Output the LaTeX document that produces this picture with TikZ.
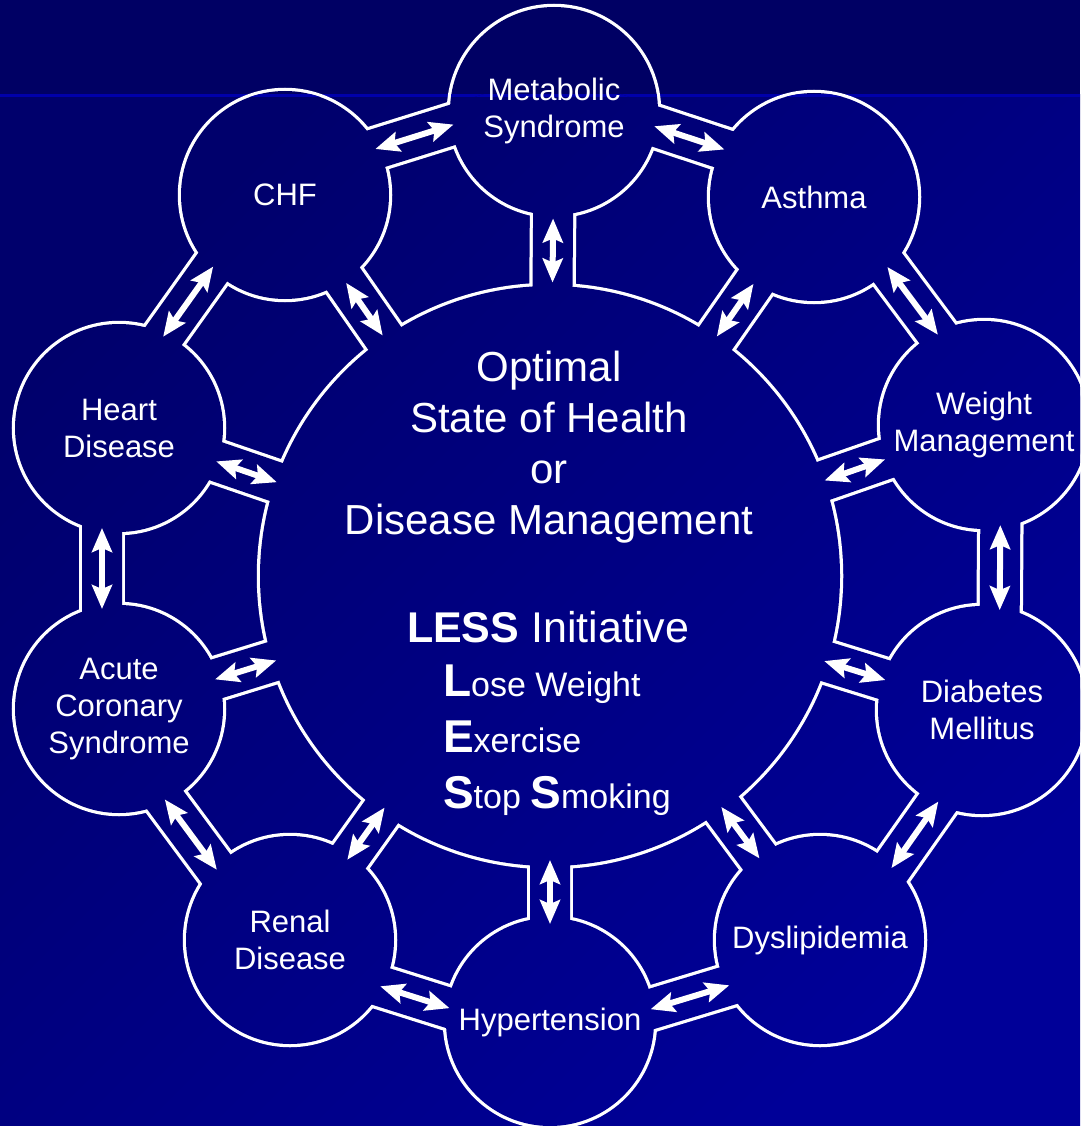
\documentclass[tikz,border=0pt]{standalone}
\usepackage{fontspec}
\setmainfont{Liberation Sans}
\usetikzlibrary{
  arrows.meta,
  calc
}

% background, painted once and again inside every shape
\newcommand\paintbg{%
  \shade[top color=bgTop, bottom color=bgBot, shading angle=45] (0,95) rectangle (1080,1126);
  \fill[bandBlue] (0,0) rectangle (1080,94);
  \fill[bandLine] (0,94) rectangle (1080,97);
}
% band between two centres: #3 and #4 are the two side offsets
\newcommand\spoke[4]{($(#1)!#3!90:(#2)$) -- ($(#2)!#3!-90:(#1)$) -- ($(#2)!#4!-90:(#1)$) -- ($(#1)!#4!90:(#2)$) -- cycle}
\newcommand\initial[1]{{\fontsize{46}{56}\selectfont\bfseries #1}}

\pgfdeclarelayer{labels}
\pgfsetlayers{main,labels}

\begin{document}
\begin{tikzpicture}[x=1pt, y=-1pt,
  every node/.style={text=white, inner sep=0pt, outer sep=0pt},
  ring/.style={circle, minimum size=208pt, align=center, font=\fontsize{31}{37}\selectfont},
  hub/.style={circle, minimum size=580pt},
  rim/.style={draw=white, line width=6.5pt},
  twoway/.style={draw=white, line width=6pt,
    {Stealth[length=24pt, width=20pt, inset=4pt]}-{Stealth[length=24pt, width=20pt, inset=4pt]}}
]
  % colours
  \definecolor{bandBlue}{RGB}{0,0,100}
  \definecolor{bandLine}{RGB}{0,0,170}
  \definecolor{bgTop}{RGB}{0,0,108}
  \definecolor{bgBot}{RGB}{0,0,152}

  \useasboundingbox (0,0) rectangle (1080,1126);
  \paintbg

  % circles (texts kept on top)
  \begin{pgfonlayer}{labels}
  \node[hub] (core) at (550,576) {};
  \node[ring] (met) at (554,111) {Metabolic\\Syndrome};
  \node[ring] (asthma) at (814,197) {Asthma};
  \node[ring] (weight) at (984,425) {Weight\\Management};
  \node[ring] (diab) at (982,710) {Diabetes\\Mellitus};
  \node[ring] (dys) at (820,940) {Dyslipidemia};
  \node[ring] (hyp) at (550,1022) {Hypertension};
  \node[ring] (renal) at (290,940) {Renal\\Disease};
  \node[ring] (acs) at (119,709) {Acute\\Coronary\\Syndrome};
  \node[ring] (heart) at (119,428) {Heart\\Disease};
  \node[ring] (chf) at (285,195) {CHF};
  \end{pgfonlayer}

  % white rims of the joined shapes
  \draw[rim] (core.center) circle[radius=290];
  \foreach \n in {met,asthma,weight,diab,dys,hyp,renal,acs,heart,chf}{
    \draw[rim] (\n.center) circle[radius=104];
    \draw[rim] \spoke{\n}{core}{20pt}{-20pt};
  }
  \foreach \a/\b in {met/asthma,asthma/weight,weight/diab,diab/dys,dys/hyp,hyp/renal,renal/acs,acs/heart,heart/chf,chf/met}
    \draw[rim] \spoke{\a}{\b}{37pt}{-3pt};

  % hollow them out again
  \begin{scope}\clip (core.center) circle[radius=290]; \paintbg\end{scope}
  \foreach \n in {met,asthma,weight,diab,dys,hyp,renal,acs,heart,chf}{
    \begin{scope}\clip (\n.center) circle[radius=104]; \paintbg\end{scope}
    \begin{scope}\clip \spoke{\n}{core}{20pt}{-20pt}; \paintbg\end{scope}
  }
  \foreach \a/\b in {met/asthma,asthma/weight,weight/diab,diab/dys,dys/hyp,hyp/renal,renal/acs,acs/heart,heart/chf,chf/met}{
    \begin{scope}\clip \spoke{\a}{\b}{37pt}{-3pt}; \paintbg\end{scope}
  }

  % arrows to the centre
  \foreach \n in {met,asthma,weight,diab,dys,hyp,renal,acs,heart,chf}{
    \path (\n) -- (core) coordinate[pos=0.5] (mid);
    \draw[twoway] ($(mid)!32pt!(\n)$) -- ($(mid)!32pt!(core)$);
  }
  % arrows round the ring
  \foreach \a/\b in {met/asthma,asthma/weight,weight/diab,diab/dys,dys/hyp,hyp/renal,renal/acs,acs/heart,heart/chf,chf/met}{
    \coordinate (p) at ($(\a)!17pt!90:(\b)$);
    \coordinate (q) at ($(\b)!17pt!-90:(\a)$);
    \draw[twoway] ($(p)!100pt!(q)$) -- ($(q)!100pt!(p)$);
  }

  % centre text
  \node[font=\fontsize{42}{51}\selectfont, align=center, anchor=north] (goal) at (549,351)
    {Optimal\\State of Health\\or\\Disease Management};
  \node[font=\fontsize{43}{51}\selectfont, anchor=base] (less) at (548,642) {\textbf{LESS} Initiative};
  \node[font=\fontsize{34}{56}\selectfont, align=left, anchor=north west] (steps) at (443,665)
    {\initial{L}ose Weight\\\initial{E}xercise\\\initial{S}top \initial{S}moking};

\end{tikzpicture}
\end{document}
